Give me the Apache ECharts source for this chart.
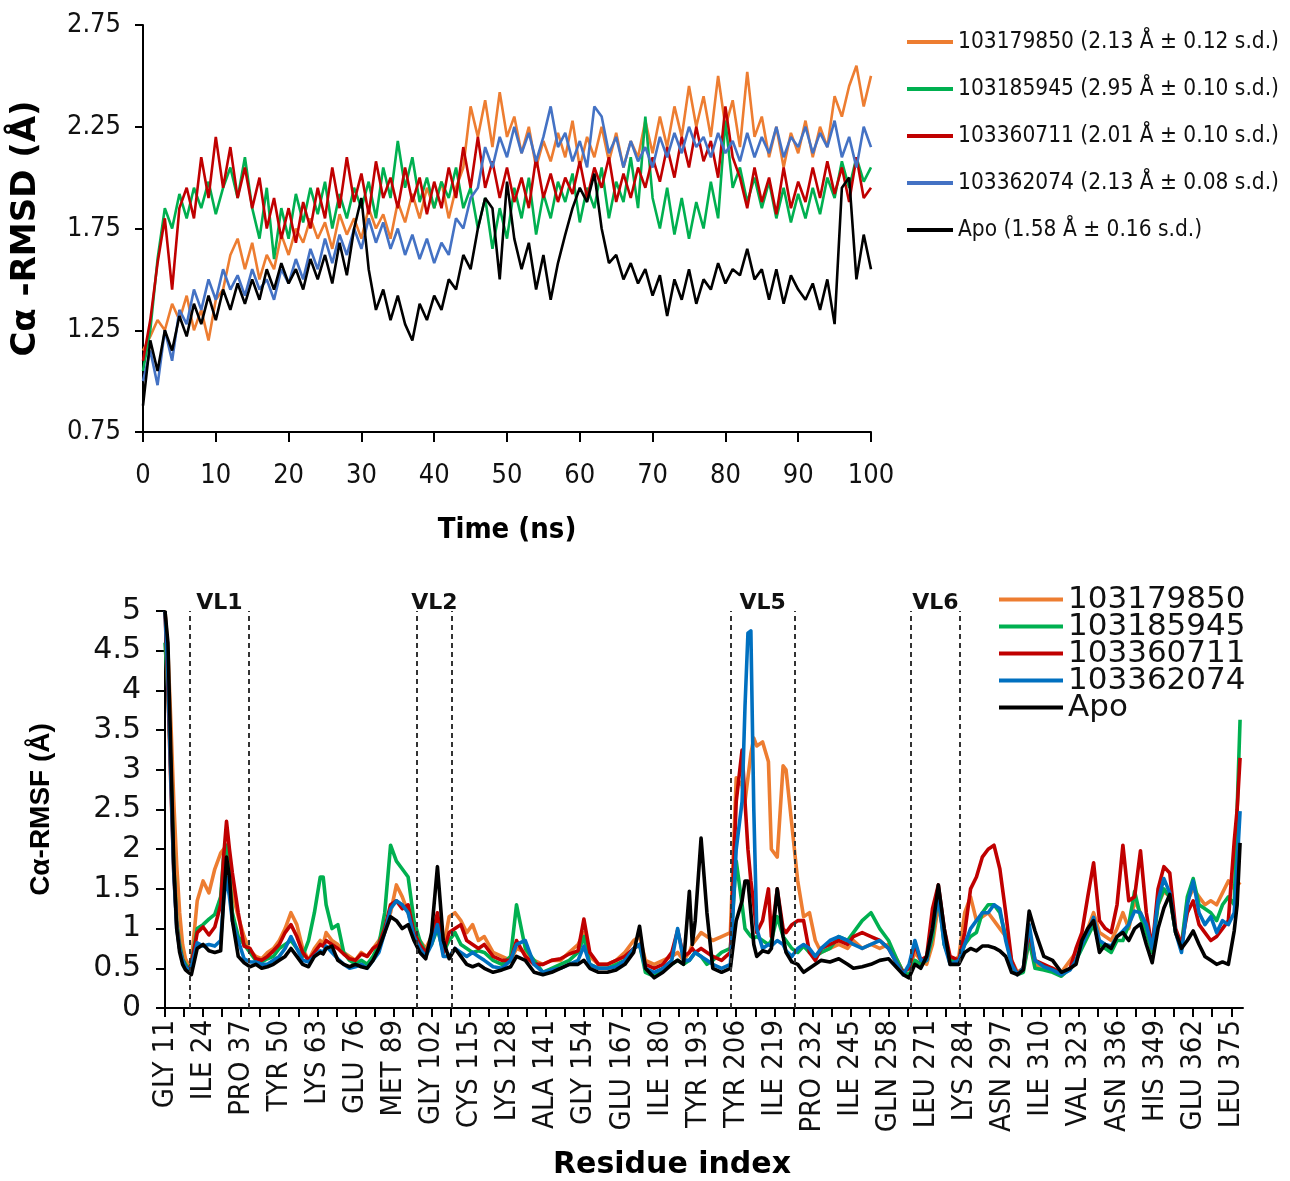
<!DOCTYPE html>
<html><head><meta charset="utf-8">
<script src="https://cdn.jsdelivr.net/npm/echarts@6/dist/echarts.min.js"></script>
<style>html,body{margin:0;padding:0;background:#fff}#c{width:1290px;height:1181px}</style>
</head><body><div id="c"></div>
<script>
// ---------- Top panel: C-alpha RMSD vs time ----------
const TIME_NS = Array.from({length:101},(_,i)=>i);
const RMSD_103179850 = [1.15,1.22,1.30,1.25,1.38,1.30,1.42,1.25,1.35,1.20, 1.40,1.45,1.62,1.70,1.55,1.68,1.50,1.62,1.55,1.72, 1.62,1.75,1.68,1.80,1.70,1.78,1.65,1.82,1.72,1.80, 1.70,1.85,1.75,1.82,1.70,1.88,1.78,1.92,1.80,1.95, 1.85,1.98,1.80,1.95,2.05,2.35,2.20,2.38,2.15,2.42, 2.20,2.30,2.12,2.25,2.05,2.18,2.08,2.22,2.10,2.28, 2.05,2.20,2.10,2.25,2.08,2.22,2.05,2.18,2.10,2.28, 2.12,2.30,2.15,2.35,2.20,2.45,2.25,2.40,2.20,2.50, 2.25,2.38,2.15,2.52,2.20,2.30,2.10,2.25,2.05,2.22, 2.12,2.28,2.10,2.25,2.15,2.40,2.30,2.45,2.55,2.35, 2.50];
const RMSD_103185945 = [1.05,1.25,1.60,1.85,1.75,1.92,1.80,1.95,1.85,1.98, 1.82,1.95,2.05,1.90,2.10,1.85,1.70,1.95,1.60,1.85, 1.70,1.92,1.78,1.95,1.82,1.98,1.75,1.92,1.80,1.95, 1.85,1.98,1.80,2.05,1.90,2.18,1.95,2.10,1.88,2.00, 1.85,1.98,1.90,2.05,1.85,1.95,1.75,1.90,1.65,1.85, 1.70,1.95,1.80,2.00,1.72,1.92,1.80,1.98,1.88,2.02, 1.78,1.95,1.85,2.05,1.80,1.98,1.88,2.10,1.85,2.30, 1.90,1.75,1.95,1.72,1.90,1.70,1.88,1.75,1.98,1.80, 2.28,1.95,2.05,1.88,2.00,1.85,1.98,1.80,1.95,1.78, 1.92,1.80,1.95,1.82,2.00,1.90,2.08,1.95,2.10,1.98, 2.05];
const RMSD_103360711 = [1.10,1.30,1.58,1.80,1.45,1.85,1.95,1.80,2.10,1.90, 2.20,1.95,2.15,1.90,2.05,1.85,2.00,1.75,1.90,1.70, 1.85,1.68,1.88,1.75,1.95,1.80,2.05,1.85,2.10,1.88, 2.02,1.82,2.08,1.90,2.00,1.85,2.05,1.88,2.00,1.82, 1.98,1.85,2.05,1.90,2.15,1.95,2.20,1.95,2.08,1.90, 2.05,1.88,2.00,1.85,2.10,1.90,2.02,1.88,2.00,1.92, 2.08,1.90,2.05,1.95,2.10,1.88,2.02,1.90,2.05,1.95, 2.10,1.98,2.15,2.00,2.20,2.05,2.25,2.08,2.18,2.00, 2.35,2.10,2.00,1.85,2.05,1.88,2.00,1.82,2.05,1.85, 1.98,1.88,2.05,1.90,2.08,1.92,2.05,1.88,2.10,1.90, 1.95];
const RMSD_103362074 = [1.00,1.15,0.98,1.25,1.10,1.35,1.28,1.45,1.35,1.50, 1.40,1.55,1.45,1.52,1.42,1.55,1.45,1.50,1.40,1.55, 1.48,1.60,1.50,1.65,1.55,1.70,1.58,1.72,1.62,1.75, 1.65,1.80,1.68,1.78,1.65,1.75,1.62,1.72,1.60,1.70, 1.58,1.68,1.62,1.80,1.75,1.90,1.95,2.15,2.05,2.20, 2.10,2.25,2.12,2.22,2.08,2.20,2.35,2.15,2.22,2.08, 2.18,2.05,2.35,2.30,2.12,2.20,2.05,2.18,2.08,2.15, 2.05,2.20,2.10,2.22,2.12,2.25,2.15,2.20,2.10,2.22, 2.12,2.18,2.08,2.22,2.10,2.20,2.12,2.25,2.10,2.20, 2.15,2.25,2.12,2.22,2.15,2.28,2.10,2.20,2.05,2.25, 2.15];
const RMSD_APO = [0.88,1.20,1.05,1.25,1.15,1.32,1.22,1.38,1.28,1.42, 1.30,1.45,1.35,1.48,1.38,1.50,1.40,1.55,1.45,1.58, 1.48,1.55,1.45,1.60,1.50,1.62,1.48,1.68,1.52,1.75, 1.90,1.55,1.35,1.45,1.30,1.42,1.28,1.20,1.38,1.30, 1.42,1.35,1.50,1.45,1.62,1.55,1.75,1.90,1.85,1.50, 1.98,1.70,1.55,1.68,1.45,1.62,1.40,1.58,1.72,1.85, 1.95,1.88,2.02,1.75,1.58,1.62,1.50,1.58,1.48,1.55, 1.42,1.52,1.32,1.50,1.40,1.55,1.38,1.50,1.45,1.58, 1.48,1.55,1.52,1.65,1.50,1.55,1.40,1.55,1.38,1.52, 1.45,1.40,1.48,1.35,1.50,1.28,1.95,2.00,1.50,1.72, 1.55];
const RMSD_TICKS = [0.75,1.25,1.75,2.25,2.75];
const TOP_NAMES = ['103179850 (2.13 Å ± 0.12 s.d.)','103185945 (2.95 Å ± 0.10 s.d.)','103360711 (2.01 Å ± 0.10 s.d.)','103362074 (2.13 Å ± 0.08 s.d.)','Apo (1.58 Å ± 0.16 s.d.)'];

// ---------- Bottom panel: C-alpha RMSF vs residue ----------
const RESIDUES = [11,12,13,14,15,16,17,18,19,20,
 22,24,26,28,30,31,32,33,34,36,38,40,
 42,44,46,48,50,52,54,56,58,60,62,64,65,66,68,70,72,74,76,78,80,82,84,86,88,90,92,94,96,
 98,100,102,104,106,108,110,112,114,116,118,120,123,126,129,
 131,134,137,140,143,146,149,152,154,156,159,162,165,168,171,173,175,178,181,184,186,188,190,191,192,194,196,198,201,204,
 206,208,209,210,211,212,213,215,217,218,220,222,223,225,227,229,
 231,233,235,238,241,244,246,249,252,255,258,261,263,265,267,269,271,273,275,277,279,282,284,286,288,290,
 292,294,296,298,300,302,304,306,308,311,314,317,320,322,324,326,328,330,332,334,336,338,340,342,344,346,348,350,352,354,356,358,360,362,364,366,368,370,372,374,376,377,378];
const RMSF_103179850 = [5.0,4.5,3.6,2.6,1.8,1.2,0.8,0.62,0.55,0.58,
 1.35,1.6,1.45,1.75,1.95,2.0,2.05,1.8,1.45,1.15,0.9,0.72,
 0.65,0.62,0.7,0.75,0.85,1.0,1.2,1.05,0.75,0.6, 0.75,0.85,0.8,0.95,0.85,0.8,0.7,0.65,0.6,0.7, 0.65,0.75,0.85,1.0,1.2,1.55,1.4,1.2,0.95,
 0.85,0.75,0.9,1.1,0.75,1.15,1.2,1.1,0.95,1.05, 0.85,0.9,0.7,0.65,0.6,
 0.75,0.7,0.6,0.55,0.6,0.6,0.7,0.8,0.95,0.65, 0.55,0.55,0.6,0.7,0.85,0.9,0.6,0.55,0.6,0.65, 0.7,0.6,0.7,0.8,0.85,0.95,0.9,0.85,0.9,0.95,
 2.9,2.8,2.6,2.9,3.2,3.4,3.3,3.35,3.1,2.0, 1.9,3.05,3.0,2.3,1.6,1.15,
 1.2,0.85,0.7,0.75,0.8,0.75,0.85,0.75,0.8,0.75, 0.8,0.6,0.45,0.5,0.7,0.6,0.55,0.8,1.3,0.9, 0.55,0.65,1.2,1.4,1.1,1.15,
 1.2,1.1,1.0,0.9,0.6,0.45,0.5,0.85,0.55, 0.5,0.5,0.45,0.6,0.7,0.85,1.0,1.2,0.95,0.9, 0.85,1.0,1.2,1.0,1.35,1.2,1.0,0.8,1.3,1.47, 1.4,0.95,0.75,1.35,1.5,1.4,1.3,1.35,1.3,1.45, 1.6,1.5,1.6,1.55];
const RMSF_103185945 = [4.6,4.0,3.0,1.8,1.1,0.8,0.62,0.55,0.5,0.55,
 1.0,1.05,1.12,1.18,1.4,1.9,2.05,1.65,1.2,0.9,0.8,0.7,
 0.6,0.58,0.62,0.65,0.75,0.8,0.85,0.75,0.65,0.85, 1.2,1.65,1.65,1.3,1.0,1.05,0.7,0.6,0.55,0.6, 0.55,0.65,0.8,1.2,2.05,1.85,1.75,1.65,1.1,
 0.85,0.7,0.8,1.0,0.7,0.85,0.95,0.8,0.75,0.7, 0.72,0.7,0.6,0.55,0.65,
 1.3,0.75,0.6,0.45,0.5,0.55,0.6,0.7,0.9,0.55, 0.5,0.5,0.55,0.6,0.75,0.8,0.45,0.4,0.5,0.55, 0.6,0.55,0.6,0.65,0.7,0.65,0.55,0.6,0.7,0.75,
 1.85,1.3,1.0,0.95,0.9,0.88,0.9,0.85,0.8,0.85, 1.15,0.9,0.85,0.75,0.7,0.78,
 0.7,0.65,0.7,0.75,0.9,0.85,0.95,1.1,1.2,1.0, 0.85,0.6,0.45,0.42,0.6,0.55,0.6,0.9,1.45,0.8, 0.6,0.6,0.8,0.9,0.95,1.2,
 1.3,1.3,1.2,0.9,0.55,0.42,0.45,0.85,0.5, 0.48,0.45,0.4,0.5,0.6,0.75,0.9,1.05,0.8,0.75, 0.7,0.85,0.85,1.05,1.47,1.15,0.95,0.7,1.3,1.5, 1.4,0.95,0.8,1.4,1.63,1.3,1.25,1.2,1.1,1.3, 1.4,1.3,2.5,3.63];
const RMSF_103360711 = [5.0,4.0,2.8,1.7,1.05,0.75,0.6,0.52,0.48,0.55,
 0.95,1.02,0.92,1.02,1.3,1.9,2.35,2.0,1.7,1.2,0.78,0.75,
 0.62,0.6,0.65,0.72,0.8,0.95,1.05,0.9,0.7,0.6, 0.7,0.8,0.78,0.85,0.8,0.75,0.68,0.62,0.6,0.68, 0.65,0.75,0.8,1.0,1.3,1.35,1.25,1.3,0.95,
 0.8,0.7,0.85,1.2,0.7,0.95,1.0,1.05,0.85,0.8, 0.75,0.8,0.65,0.6,0.6,
 0.85,0.65,0.55,0.55,0.6,0.62,0.68,0.72,1.12,0.7, 0.55,0.55,0.6,0.65,0.75,0.8,0.55,0.5,0.55,0.7, 0.98,0.65,0.7,0.75,0.7,0.75,0.7,0.65,0.6,0.7,
 2.6,3.25,2.6,2.0,1.6,1.3,0.95,1.1,1.5,0.9, 1.5,1.0,0.95,1.05,1.1,1.1,
 0.7,0.6,0.75,0.8,0.85,0.8,0.9,0.95,0.9,0.85, 0.75,0.55,0.45,0.5,0.8,0.6,0.65,1.25,1.55,1.0, 0.65,0.6,0.95,1.5,1.65,1.9,
 2.0,2.05,1.75,1.2,0.6,0.42,0.5,0.97,0.6, 0.55,0.5,0.42,0.5,0.75,0.95,1.4,1.83,1.1,1.0, 0.95,1.3,2.05,1.35,1.4,1.98,1.2,0.75,1.5,1.78, 1.7,1.0,0.8,1.2,1.35,1.05,0.95,0.85,0.9,1.0, 1.1,2.1,2.5,3.15];
const RMSF_103362074 = [5.0,4.2,2.9,1.7,1.0,0.75,0.6,0.52,0.48,0.52,
 0.82,0.78,0.8,0.78,0.85,1.35,1.65,1.4,1.1,0.85,0.62,0.58,
 0.58,0.55,0.55,0.6,0.65,0.75,0.9,0.75,0.6,0.58, 0.65,0.72,0.7,0.78,0.7,0.62,0.55,0.5,0.52,0.55, 0.5,0.6,0.7,0.95,1.25,1.35,1.3,1.2,0.9,
 0.75,0.65,0.8,1.05,0.65,0.65,0.75,0.7,0.65,0.7, 0.65,0.6,0.52,0.5,0.6,
 0.8,0.85,0.55,0.45,0.48,0.5,0.55,0.6,0.78,0.55, 0.5,0.5,0.52,0.6,0.75,0.8,0.5,0.45,0.5,0.6, 1.0,0.6,0.6,0.65,0.7,0.65,0.6,0.55,0.5,0.55,
 2.0,2.6,3.8,4.72,4.75,2.5,1.0,0.75,0.8,0.78, 0.85,0.8,0.72,0.65,0.75,0.8,
 0.75,0.65,0.75,0.85,0.9,0.85,0.8,0.75,0.8,0.85, 0.75,0.55,0.42,0.55,0.85,0.6,0.6,1.0,1.4,0.8, 0.55,0.6,0.8,1.0,1.1,1.2,
 1.2,1.3,1.25,0.85,0.55,0.42,0.5,1.05,0.6, 0.52,0.48,0.42,0.48,0.6,0.8,0.95,1.14,0.85,0.8, 0.78,0.9,0.97,1.05,1.22,1.2,1.05,0.75,1.35,1.63, 1.45,0.95,0.7,1.3,1.6,1.2,1.05,1.15,0.95,1.1, 1.05,1.2,1.8,2.48];
const RMSF_APO = [5.0,4.6,3.2,1.8,1.0,0.7,0.55,0.48,0.45,0.42,
 0.75,0.8,0.72,0.7,0.72,1.35,1.9,1.65,1.1,0.65,0.57,0.52,
 0.55,0.5,0.52,0.55,0.6,0.65,0.75,0.65,0.55,0.52, 0.65,0.7,0.68,0.75,0.78,0.6,0.55,0.52,0.55,0.52, 0.5,0.6,0.75,0.95,1.15,1.1,1.0,1.05,0.85,
 0.7,0.62,0.95,1.78,0.85,0.62,0.75,0.65,0.55,0.52, 0.55,0.5,0.45,0.48,0.52,
 0.65,0.6,0.45,0.42,0.45,0.5,0.55,0.55,0.6,0.5, 0.45,0.45,0.48,0.55,0.7,1.03,0.5,0.38,0.45,0.55, 0.6,0.55,1.47,0.8,1.1,2.14,1.2,0.5,0.45,0.5,
 1.1,1.35,1.6,1.6,1.2,0.8,0.65,0.72,0.7,0.75, 1.5,0.9,0.7,0.58,0.55,0.45,
 0.5,0.55,0.6,0.58,0.62,0.55,0.5,0.52,0.55,0.6, 0.62,0.5,0.42,0.38,0.55,0.5,0.65,1.0,1.55,1.0, 0.55,0.55,0.7,0.75,0.72,0.78,
 0.78,0.76,0.72,0.65,0.45,0.42,0.48,1.22,0.97, 0.65,0.6,0.45,0.5,0.55,0.85,1.0,1.1,0.7,0.8, 0.75,0.9,0.95,0.85,1.0,1.06,0.8,0.57,1.0,1.26, 1.43,0.95,0.75,0.85,0.97,0.8,0.65,0.6,0.55,0.58, 0.55,0.97,1.3,2.08];
const TICK_RESIDUES = [11,24,37,50,63,76,89,102,115,128,141,154,167,180,193,206,219,232,245,258,271,284,297,310,323,336,349,362,375];
const TICK_NAMES = ['GLY','ILE','PRO','TYR','LYS','GLU','MET','GLY','CYS','LYS','ALA','GLY','GLU','ILE','TYR','TYR','ILE','PRO','ILE','GLN','LEU','LYS','ASN','ILE','VAL','ASN','HIS','GLU','LEU'];
const VL_NAMES = ['VL1','VL2','VL5','VL6'];
const VL_START = [19.5,97,204,265.6];
const VL_END = [39.7,109,226,282.4];
const BOT_NAMES = ['103179850','103185945','103360711','103362074','Apo'];

// ---------- chart ----------
const NARROW = "'DejaVu Sans Condensed','Liberation Sans',sans-serif";
const TOP_COLORS = ['#ED7D31','#00B050','#C00000','#4472C4','#000000'];
const BOT_COLORS = ['#ED7D31','#00B050','#C00000','#0070C0','#000000'];
const topSets = [RMSD_103179850,RMSD_103185945,RMSD_103360711,RMSD_103362074,RMSD_APO];
const botSets = [RMSF_103179850,RMSF_103185945,RMSF_103360711,RMSF_103362074,RMSF_APO];
botSets.forEach((s,i)=>{ if(s.length!==RESIDUES.length) console.error('RMSF length mismatch', i, s.length, RESIDUES.length); });
topSets.forEach((s,i)=>{ if(s.length!==TIME_NS.length) console.error('RMSD length mismatch', i, s.length); });

const nameOf = {};
TICK_RESIDUES.forEach((r,i)=>{ nameOf[r] = TICK_NAMES[i] + ' ' + r; });
const tickAll = [];
TICK_RESIDUES.forEach(r=>{ tickAll.push(r); if (r+6.5 < 379) tickAll.push(r+6.5); });

const series = [];
topSets.forEach((s,i)=>{
  series.push({
    name: TOP_NAMES[i], type:'line', xAxisIndex:0, yAxisIndex:0,
    data: TIME_NS.map((t,j)=>[t, s[j]]),
    symbol:'none', clip:true,
    lineStyle:{color:TOP_COLORS[i], width:2.6}, itemStyle:{color:TOP_COLORS[i]}
  });
});
botSets.forEach((s,i)=>{
  const ser = {
    name: BOT_NAMES[i], type:'line', xAxisIndex:1, yAxisIndex:1,
    data: RESIDUES.map((r,j)=>[r, s[j]]),
    symbol:'none', clip:true,
    lineStyle:{color:BOT_COLORS[i], width:3.6, join:'round'}, itemStyle:{color:BOT_COLORS[i]}
  };
  if (i===0) {
    const ml = [];
    VL_START.forEach((a,k)=>{ ml.push({xAxis:a}); ml.push({xAxis:VL_END[k]}); });
    ser.markLine = {silent:true, symbol:['none','none'], label:{show:false},
      lineStyle:{color:'#333', width:2, type:[5,4]}, data: ml};
    ser.markArea = {silent:true, itemStyle:{color:'rgba(0,0,0,0)'},
      label:{show:true, position:'top', distance:-3, fontFamily:'DejaVu Sans', fontWeight:'bold', fontSize:22, color:'#111'},
      data: VL_NAMES.map((n,k)=>[{name:n, xAxis:VL_START[k]},{xAxis:VL_END[k]}])};
  }
  series.push(ser);
});

const axisLineStyle = {color:'#000', width:2};
const option = {
  animation:false,
  backgroundColor:'#ffffff',
  grid:[
    {left:143, top:25, width:728, height:407},
    {left:165, top:611, width:1078, height:409}
  ],
  legend:[
    {data:TOP_NAMES, orient:'vertical', left:902, top:22, icon:'rect', itemWidth:46, itemHeight:4, itemGap:17, selectedMode:false,
     textStyle:{fontFamily:NARROW, fontSize:22.5, color:'#111', lineHeight:30}},
    {data:BOT_NAMES, orient:'vertical', left:994, top:579, icon:'rect', itemWidth:64, itemHeight:4, itemGap:-4, selectedMode:false,
     textStyle:{fontFamily:'DejaVu Sans', fontSize:31, color:'#111', lineHeight:27}}
  ],
  xAxis:[
    {gridIndex:0, type:'value', min:0, max:100, interval:10,
     name:'Time (ns)', nameLocation:'middle', nameGap:84,
     nameTextStyle:{fontFamily:NARROW, fontWeight:'bold', fontSize:29, color:'#000'},
     axisLine:{show:true, onZero:false, lineStyle:axisLineStyle},
     axisTick:{show:true, length:10, lineStyle:axisLineStyle},
     axisLabel:{fontFamily:NARROW, fontSize:27, color:'#111', margin:30},
     splitLine:{show:false}},
    {gridIndex:1, type:'value', min:11, max:379,
     name:'Residue index', nameLocation:'middle', nameGap:142,
     nameTextStyle:{fontFamily:'DejaVu Sans', fontWeight:'bold', fontSize:30, color:'#000', padding:[0,64,0,0]},
     axisLine:{show:true, onZero:false, lineStyle:axisLineStyle},
     axisTick:{show:true, customValues:tickAll, length:9, lineStyle:axisLineStyle},
     axisLabel:{customValues:TICK_RESIDUES, rotate:90, margin:12, formatter:v=>nameOf[v]||'',
       fontFamily:NARROW, fontSize:29, color:'#111'},
     splitLine:{show:false}}
  ],
  yAxis:[
    {gridIndex:0, type:'value', min:0.75, max:2.75,
     name:'Cα -RMSD (Å)', nameLocation:'middle', nameGap:100, nameRotate:90,
     nameTextStyle:{fontFamily:'DejaVu Sans', fontWeight:'bold', fontSize:34, color:'#000'},
     axisLine:{show:true, onZero:false, lineStyle:axisLineStyle},
     axisTick:{show:true, customValues:RMSD_TICKS, length:8, lineStyle:axisLineStyle},
     axisLabel:{customValues:RMSD_TICKS, formatter:v=>v.toFixed(2), fontFamily:NARROW, fontSize:27, color:'#111', margin:22},
     splitLine:{show:false}},
    {gridIndex:1, type:'value', min:0, max:5, interval:0.5,
     name:'Cα-RMSF (Å)', nameLocation:'middle', nameGap:110, nameRotate:90,
     nameTextStyle:{fontFamily:'Liberation Sans', fontWeight:'bold', fontSize:28, color:'#000'},
     axisLine:{show:true, onZero:false, lineStyle:axisLineStyle},
     axisTick:{show:true, length:9, lineStyle:axisLineStyle},
     axisLabel:{fontFamily:'DejaVu Sans', fontSize:30, color:'#111', margin:24},
     splitLine:{show:false}}
  ],
  series: series
};
const chart = echarts.init(document.getElementById('c'), null, {renderer:'canvas'});
chart.setOption(option);
</script>
</body></html>
